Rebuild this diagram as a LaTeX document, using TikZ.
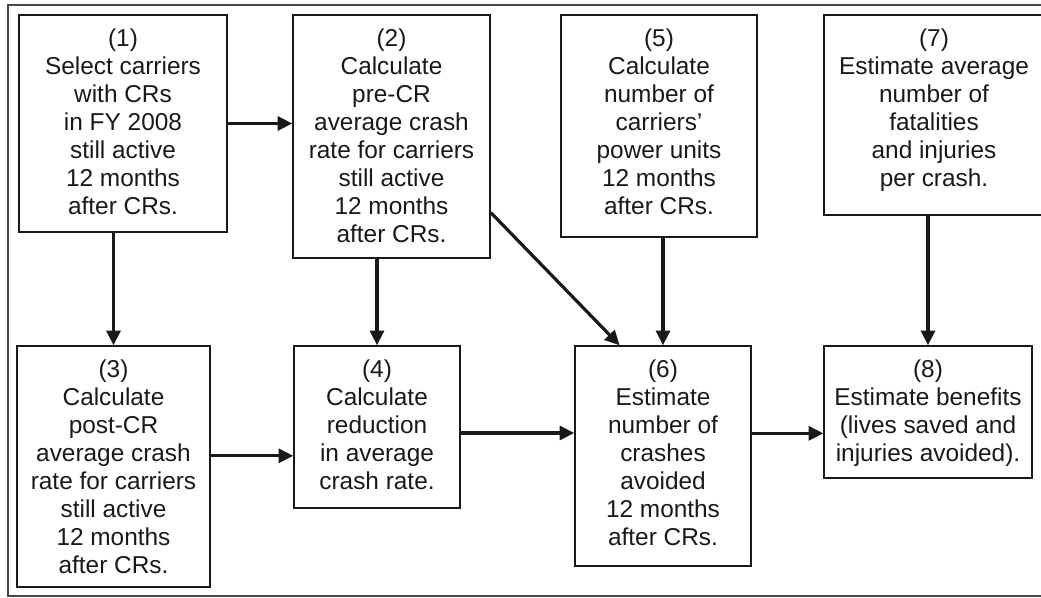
\documentclass[tikz,border=0pt]{standalone}
\usepackage{fontspec}
\setmainfont{Liberation Sans}
\usetikzlibrary{arrows.meta,positioning,fit,calc}
\definecolor{ink}{RGB}{25,25,25}
\definecolor{rim}{RGB}{70,70,70}
\tikzset{
  >={Triangle[length=11pt,width=10.5pt]},
  stepbox/.style={draw=ink,line width=1.1pt,inner sep=0pt},
  txt/.style={align=center,inner sep=0pt,text=ink,font=\fontsize{18.3}{21}\selectfont},
  flow/.style={->,line width=2.4pt,draw=ink},
  frame/.style={draw=rim,line width=1.4pt},
}
\begin{document}
\begin{tikzpicture}[x=0.75pt,y=-0.75pt]
  \useasboundingbox (0,0) rectangle (1041,598);
  \clip (0,0) rectangle (1041,598);
  \draw[frame] (8,5) rectangle (1050,596);
  % boxes
  \node[stepbox,fit={(19,15)(227,232)}] (b1) {};
  \node[stepbox,fit={(293,15)(490,258)}] (b2) {};
  \node[stepbox,fit={(561,15)(757,237)}] (b5) {};
  \node[stepbox,fit={(824,15)(1044,215)}] (b7) {};
  \node[stepbox,fit={(17,346)(210,587)}] (b3) {};
  \node[stepbox,fit={(294,346)(460,508)}] (b4) {};
  \node[stepbox,fit={(575,346)(751,566)}] (b6) {};
  \node[stepbox,fit={(824,346)(1032,478)}] (b8) {};
  % texts
  \node[txt,below=10.5pt of b1.north] (t1) {(1)\\Select carriers\\with CRs\\in FY 2008\\still active\\12 months\\after CRs.};
  \node[txt,below=10.5pt of b2.north] (t2) {(2)\\Calculate\\pre-CR\\average crash\\rate for carriers\\still active\\12 months\\after CRs.};
  \node[txt,below=10.5pt of b5.north] (t5) {(5)\\Calculate\\number of\\carriers'\\power units\\12 months\\after CRs.};
  \node[txt,below=10.5pt of b7.north] (t7) {(7)\\Estimate average\\number of\\fatalities\\and injuries\\per crash.};
  \node[txt,below=10.5pt of b3.north] (t3) {(3)\\Calculate\\post-CR\\average crash\\rate for carriers\\still active\\12 months\\after CRs.};
  \node[txt,below=10.5pt of b4.north] (t4) {(4)\\Calculate\\reduction\\in average\\crash rate.};
  \node[txt,below=10.5pt of b6.north] (t6) {(6)\\Estimate\\number of\\crashes\\avoided\\12 months\\after CRs.};
  \node[txt,below=10.5pt of b8.north] (t8) {(8)\\Estimate benefits\\(lives saved and\\injuries avoided).};
  % connectors
  \draw[flow] (b1.east) -- (b1.east -| b2.west);
  \draw[flow] (b3.north |- b1.south) -- (b3.north);
  \draw[flow] (b4.north |- b2.south) -- (b4.north);
  \draw[flow] ([yshift=-57pt]b2.east) -- ([xshift=34pt]b6.north west);
  \draw[flow] (b6.north |- b5.south) -- (b6.north);
  \draw[flow] (b8.north |- b7.south) -- (b8.north);
  \draw[flow] ([yshift=8pt]b3.east) -- ([yshift=8pt]b3.east -| b4.west);
  \draw[flow] ([yshift=-4.5pt]b4.east) -- ([yshift=-4.5pt]b4.east -| b6.west);
  \draw[flow] ([yshift=17pt]b6.east) -- ([yshift=17pt]b6.east -| b8.west);
\end{tikzpicture}
\end{document}
